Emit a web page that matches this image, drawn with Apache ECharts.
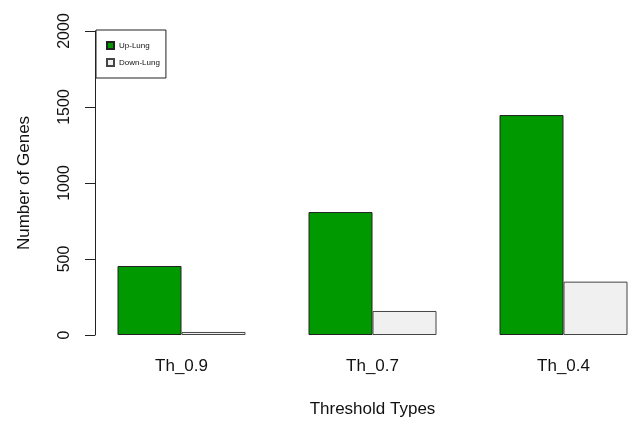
<!DOCTYPE html>
<html><head><meta charset="utf-8">
<script src="https://cdn.jsdelivr.net/npm/echarts@6/dist/echarts.min.js"></script>
<style>html,body{margin:0;padding:0;background:#fff}#c{width:632px;height:425px}</style>
</head><body><div id="c"></div>
<script>
const categories = ['Th_0.9', 'Th_0.7', 'Th_0.4'];
const upLung = [454, 809, 1447];
const downLung = [20, 158, 351];
const yTicks = [0, 500, 1000, 1500, 2000];

const chart = echarts.init(document.getElementById('c'));
const font = 'Liberation Sans, Arial, sans-serif';
chart.setOption({
  animation: false,
  backgroundColor: '#fff',
  grid: { left: 86, width: 573, top: 31, bottom: 90, containLabel: false, outerBoundsMode: 'none' },
  legend: {
    orient: 'vertical', left: 96, top: 30,
    padding: [11, 6, 11, 10], itemGap: 8,
    itemWidth: 7, itemHeight: 7, icon: 'rect',
    borderColor: '#222', borderWidth: 1,
    textStyle: { fontSize: 8, fontFamily: font, color: '#111' },
    data: ['Up-Lung', 'Down-Lung']
  },
  xAxis: {
    type: 'category', data: categories,
    axisLine: { show: false }, axisTick: { show: false },
    axisLabel: { fontSize: 17, fontFamily: font, color: '#111', margin: 23 },
    name: 'Threshold Types', nameLocation: 'middle', nameGap: 66,
    nameTextStyle: { fontSize: 17, fontFamily: font, color: '#111' }
  },
  yAxis: {
    type: 'value', min: yTicks[0], max: yTicks[yTicks.length - 1], interval: 500,
    offset: -9,
    splitLine: { show: false },
    axisLine: { show: true, lineStyle: { color: '#222', width: 1 } },
    axisTick: { show: true, length: 10, lineStyle: { color: '#222' } },
    axisLabel: { rotate: 90, fontSize: 16, fontFamily: font, color: '#111', margin: 22,
      formatter: v => String(v) },
    name: 'Number of Genes', nameLocation: 'middle', nameGap: 62,
    nameTextStyle: { fontSize: 17, fontFamily: font, color: '#111' }
  },
  series: [
    { name: 'Up-Lung', type: 'bar', data: upLung, barWidth: 64, barGap: '0%',
      itemStyle: { color: '#009900', borderColor: '#222', borderWidth: 1 } },
    { name: 'Down-Lung', type: 'bar', data: downLung, barWidth: 64, barGap: '0%',
      itemStyle: { color: '#F0F0F0', borderColor: '#444', borderWidth: 1 } }
  ]
});
</script></body></html>
